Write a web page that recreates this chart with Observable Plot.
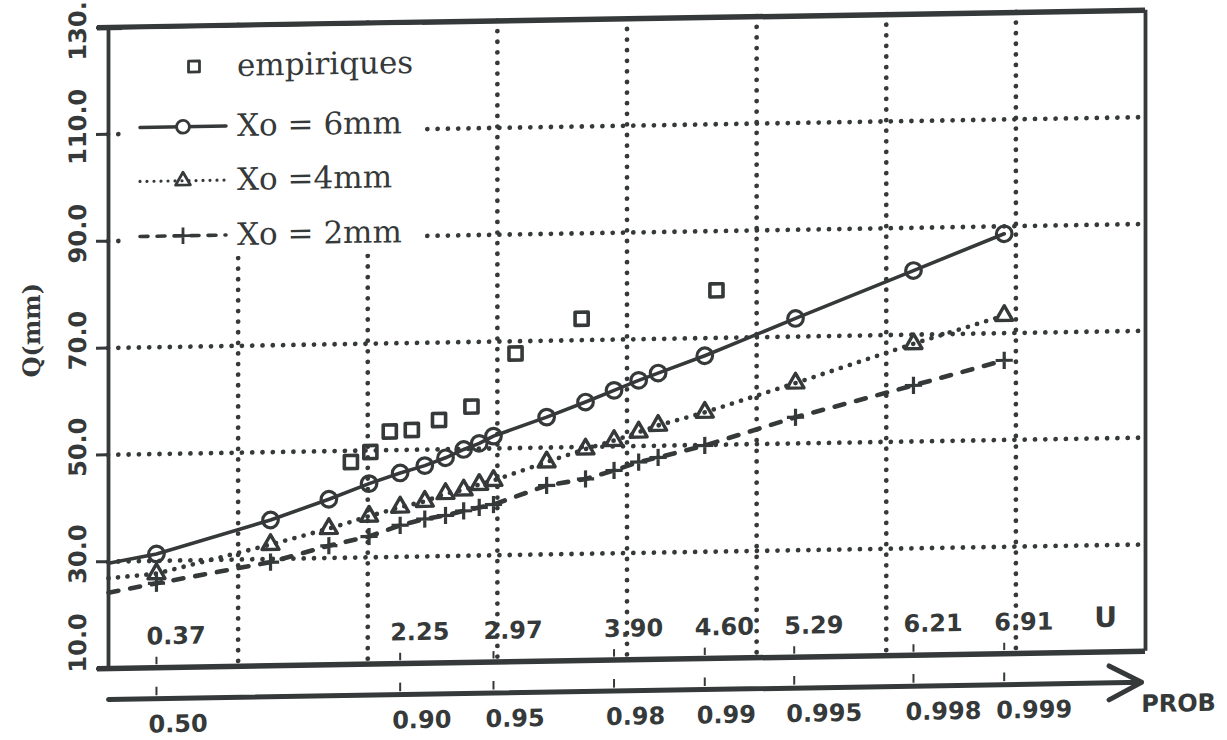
<!DOCTYPE html>
<html>
<head>
<meta charset="utf-8">
<script src="https://cdn.jsdelivr.net/npm/d3@7"></script>
<script src="https://cdn.jsdelivr.net/npm/@observablehq/plot@0.6"></script>
<style>
  html, body { margin: 0; padding: 0; background: #fff; }
  #fig {
    position: relative; width: 1227px; height: 740px; overflow: hidden; background: #fff;
    transform: skewY(-0.95deg); transform-origin: 108px 0;
  }
  #fig > svg { position: absolute; left: 0; top: 0; }
  #legend { position: absolute; left: 122px; top: 30px; width: 300px; height: 228px; background: #fff; }
</style>
</head>
<body>
<div id="fig"></div>
<script>
const ink = "#363939";

// Gumbel reduced variate u at the probability ticks, and their labels
const uTicks = [0.37, 2.25, 2.97, 3.90, 4.60, 5.29, 6.21, 6.91];
const uTickLabels = ["0.37", "2.25", "2.97", "3.90", "4.60", "5.29", "6.21", "6.91"];
const probLabels = ["0.50", "0.90", "0.95", "0.98", "0.99", "0.995", "0.998", "0.999"];

// grid and Q axis
const uGrid = [1, 2, 3, 4, 5, 6, 7];
const qGrid = [30, 50, 70, 90, 110];
const qTicks = [10, 30, 50, 70, 90, 110, 130];
const qTickLabels = ["10.0", "30.0", "50.0", "70.0", "90.0", "110.0", "130."];

// fitted quantiles Q(mm) for each Xo; the first entry is where a curve meets u = 0 (no marker there)
const uFit = [0, 0.37, 1.25, 1.70, 2.01, 2.25, 2.44, 2.60, 2.74, 2.86, 2.97, 3.38, 3.68, 3.90, 4.09, 4.24, 4.60, 5.30, 6.21, 6.91];
const qX6 = [29.7, 31.3, 37.3, 41.0, 43.8, 45.7, 47.0, 48.4, 49.9, 51.0, 52.3, 55.7, 58.4, 60.5, 62.3, 63.6, 66.7, 73.4, 82.0, 88.6];
const qX4 = [26.9, 27.6, 32.7, 35.5, 37.7, 39.3, 40.3, 41.7, 42.3, 43.3, 44.0, 47.3, 49.6, 51.1, 52.6, 53.8, 56.1, 61.3, 68.3, 73.3];
const qX2 = [24.2, 25.8, 29.4, 32.3, 33.9, 35.9, 37.0, 37.6, 38.4, 39.0, 39.5, 42.9, 44.0, 45.5, 47.0, 47.8, 49.9, 54.9, 60.5, 64.9];

// empirical (observed) values
const uEmp = [1.87, 2.02, 2.17, 2.34, 2.55, 2.80, 3.14, 3.65, 4.69];
const qEmp = [47.9, 49.7, 53.5, 53.7, 55.5, 57.9, 67.7, 74.0, 78.9];

// extent of the probability axis drawn under the frame (in u)
const probAxisFrom = 0, probAxisTo = 7.97;

const fit = (q) => uFit.map((u, i) => ({u, q: q[i], i}));
const marked = (rows) => rows.filter((d) => d.i > 0);
const emp = uEmp.map((u, i) => ({u, q: qEmp[i]}));
const qLabel = (d) => qTickLabels[qTicks.indexOf(d)];
const qMin = qTicks[0], qMax = qTicks[qTicks.length - 1];

const sans = "'DejaVu Sans', sans-serif";
const serif = "'DejaVu Serif', serif";
const dotGrid = {stroke: ink, strokeWidth: 4.8, strokeLinecap: "round", shapeRendering: "geometricPrecision"};
const dottedLine = {stroke: ink, strokeWidth: 4.8, strokeDasharray: "0,9.5", strokeLinecap: "round"};
const dashedLine = {stroke: ink, strokeWidth: 4.6, strokeDasharray: "10,12", strokeLinecap: "round"};
const labelText = {fill: ink, fontFamily: sans, fontWeight: "bold", fontSize: 24, lineAnchor: "middle"};
const qLabelText = {y: (d) => d, text: qLabel, frameAnchor: "left", textAnchor: "middle", dx: -30, rotate: -90, ...labelText};

const chart = Plot.plot({
  width: 1227,
  height: 740,
  marginLeft: 108,
  marginRight: 82,
  marginTop: 27,
  marginBottom: 72,
  x: {domain: [0, 8], axis: null},
  y: {domain: [qMin, qMax], axis: null},
  style: {background: "transparent", overflow: "visible", fontFamily: sans},
  marks: [
    // dotted grid
    Plot.ruleX(uGrid, {...dotGrid, strokeDasharray: "0,10.6"}),
    Plot.ruleY(qGrid, {...dotGrid, strokeDasharray: "0,10.3"}),

    // frame
    Plot.ruleY([qMin, qMax], {stroke: ink, strokeWidth: 5.5, insetLeft: -11}),
    Plot.ruleX([0, 8], {stroke: ink, strokeWidth: 3.8}),

    // Q axis: end labels are pulled inside the frame height
    Plot.axisY({ticks: qTicks, tickSize: 12, tickFormat: () => "", label: null, stroke: ink, strokeWidth: 3}),
    Plot.text(qGrid, {...qLabelText, dy: -8}),
    Plot.text([qMin], {...qLabelText, dy: -26}),
    Plot.text([qMax], {...qLabelText, dy: 3}),
    Plot.text(["Q(mm)"], {frameAnchor: "left", textAnchor: "middle", lineAnchor: "middle", dx: -76, dy: -19, rotate: -90, fill: ink, fontFamily: serif, fontWeight: "bold", fontSize: 24}),

    // u labels inside the frame
    Plot.ruleX(uTicks, {y1: qMin, y2: qMin + 1.4, dy: -3, stroke: ink, strokeWidth: 2}),
    Plot.text(uTickLabels, {x: (d, i) => uTicks[i], frameAnchor: "bottom", dy: -31, dx: -10, textAnchor: "start", ...labelText}),
    Plot.text(["U"], {frameAnchor: "bottom-right", textAnchor: "middle", dx: -40, dy: -34, ...labelText, fontSize: 28}),

    // probability axis
    Plot.arrow([0], {x1: () => probAxisFrom, x2: () => probAxisTo, y1: () => qMin, y2: () => qMin, dy: 31, stroke: ink, strokeWidth: 5, headLength: 11, headAngle: 55}),
    Plot.ruleX(uTicks, {y1: qMin, y2: qMin + 1.6, dy: 28, stroke: ink, strokeWidth: 2}),
    Plot.text(probLabels, {x: (d, i) => uTicks[i], frameAnchor: "bottom", dy: 57, dx: -8, textAnchor: "start", ...labelText}),
    Plot.text(["PROB"], {frameAnchor: "bottom-right", textAnchor: "middle", dx: 33, dy: 53, ...labelText}),

    // fitted curves
    Plot.line(fit(qX6), {x: "u", y: "q", stroke: ink, strokeWidth: 3.6}),
    Plot.line(fit(qX4), {x: "u", y: "q", ...dottedLine}),
    Plot.line(fit(qX2), {x: "u", y: "q", ...dashedLine}),
    Plot.dot(marked(fit(qX6)), {x: "u", y: "q", symbol: "circle", r: 7.8, fill: "none", stroke: ink, strokeWidth: 3.2}),
    Plot.dot(marked(fit(qX4)), {x: "u", y: "q", symbol: "triangle", r: 6.3, fill: "none", stroke: ink, strokeWidth: 3.4, strokeLinejoin: "round"}),
    Plot.dot(marked(fit(qX2)), {x: "u", y: "q", symbol: "plus", r: 5.6, fill: "none", stroke: ink, strokeWidth: 3.2}),

    // empirical values
    Plot.dot(emp, {x: "u", y: "q", symbol: "square", r: 7.4, fill: "none", stroke: ink, strokeWidth: 3.6, strokeLinejoin: "round"})
  ]
});

const fig = document.getElementById("fig");
fig.appendChild(chart);

// legend block (white box over the upper-left of the grid)
const legendRows = [
  {label: "empiriques", symbol: d3.symbolSquare, size: 120, line: null},
  {label: "Xo = 6mm", symbol: d3.symbolCircle, size: 130, line: {}},
  {label: "Xo =4mm", symbol: d3.symbolTriangle, size: 95, line: {dash: "0,7", width: 3.2}},
  {label: "Xo = 2mm", symbol: d3.symbolPlus, size: 90, line: {dash: "8,9", width: 3.6}}
];
const legend = d3.select(fig).append("div").attr("id", "legend");
const lsvg = legend.append("svg").attr("width", 300).attr("height", 228);
const rowY = [38, 98, 152, 207];
legendRows.forEach((row, i) => {
  const g = lsvg.append("g").attr("transform", `translate(0,${rowY[i]})`);
  if (row.line) {
    g.append("line").attr("x1", 18).attr("x2", 104).attr("y1", 0).attr("y2", 0)
      .attr("stroke", ink).attr("stroke-width", row.line.width || 3.5)
      .attr("stroke-linecap", "round")
      .attr("stroke-dasharray", row.line.dash || null);
  }
  g.append("path").attr("d", d3.symbol(row.symbol, row.size)())
    .attr("transform", `translate(${row.line ? 61 : 72},0)`)
    .attr("fill", row.symbol === d3.symbolCircle ? "white" : "none")
    .attr("stroke", ink).attr("stroke-width", 2.8).attr("stroke-linejoin", "round");
  g.append("text").attr("x", 115).attr("y", 10).text(row.label)
    .attr("fill", ink).attr("font-family", serif).attr("font-size", 31);
});
</script>
</body>
</html>
